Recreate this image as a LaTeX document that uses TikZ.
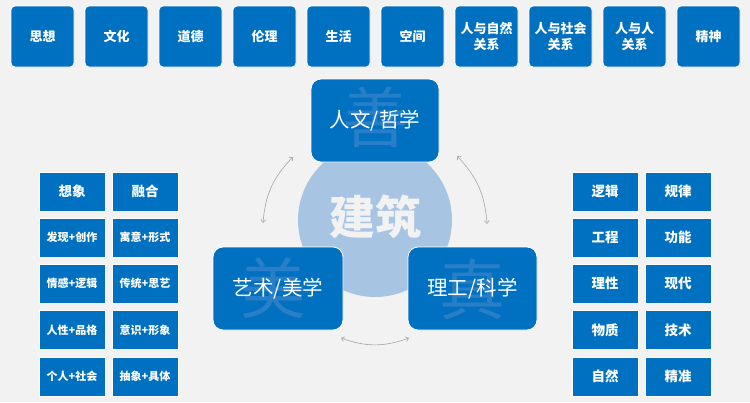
\documentclass[tikz,border=0pt]{standalone}
\usepackage{fontspec}
\setmainfont{Noto Sans CJK SC}
\usetikzlibrary{arrows.meta}
\definecolor{bg}{HTML}{F2F2F2}
\definecolor{boxblue}{HTML}{0070C0}
\definecolor{wmblue}{RGB}{40,126,200}
\definecolor{circ}{HTML}{A7C5E3}
\definecolor{arr}{HTML}{A6A6A6}
\begin{document}
\begin{tikzpicture}[x=1pt,y=-1pt,
  topbox/.style={draw=white,line width=0.8pt,fill=boxblue,rounded corners=4pt,minimum width=63pt,minimum height=61pt,text=white,font=\fontsize{13}{15.5}\selectfont\bfseries,align=center,inner sep=0pt},
  bigbox/.style={draw=white,line width=0.8pt,fill=boxblue,rounded corners=10pt,minimum height=83pt,text=white,font=\fontsize{20.5}{24}\selectfont,inner sep=0pt},
  gridbox/.style={draw=white,line width=0.8pt,fill=boxblue,minimum width=66pt,minimum height=39pt,text=white,font=\fontsize{11}{13}\selectfont\bfseries,inner sep=0pt},
  headbox/.style={gridbox,font=\fontsize{13.5}{16}\selectfont\bfseries},
  wm/.style={text=wmblue,font=\fontsize{66}{70}\selectfont,inner sep=0pt},
  dbl/.style={draw=arr,line width=0.6pt,{Straight Barb[length=3pt,width=5pt]}-{Straight Barb[length=3pt,width=5pt]}}
]
\path[fill=bg] (0,0) rectangle (750,402);
\useasboundingbox (0,0) rectangle (750,402);

% top row
\node[topbox] (t1) at (42.5,36.5) {思想};
\node[topbox] (t2) at (116.5,36.5) {文化};
\node[topbox] (t3) at (190.5,36.5) {道德};
\node[topbox] (t4) at (264.5,36.5) {伦理};
\node[topbox] (t5) at (338.5,36.5) {生活};
\node[topbox] (t6) at (412.5,36.5) {空间};
\node[topbox] (t7) at (486.5,36.5) {人与自然\\关系};
\node[topbox] (t8) at (560.5,36.5) {人与社会\\关系};
\node[topbox] (t9) at (634.5,36.5) {人与人\\关系};
\node[topbox] (t10) at (708.5,36.5) {精神};

% centre circle
\node[circle,fill=circ,minimum size=154pt,inner sep=0pt] (core) at (375,220) {};
\node[text=bg,font=\fontsize{46}{50}\selectfont\bfseries,inner sep=0pt] (coretxt) at (375,216.5) {建筑};

% three big boxes
\node[bigbox,minimum width=128pt,path picture={\node[wm] at ([yshift=3pt]path picture bounding box.center) {善};}] (ren) at (375,120.5) {人文/哲学};
\node[bigbox,minimum width=130pt,path picture={\node[wm] at ([xshift=-5pt]path picture bounding box.center) {美};}] (yi) at (278,288.5) {艺术/美学};
\node[bigbox,minimum width=129pt,path picture={\node[wm] at ([yshift=-1pt]path picture bounding box.center) {真};}] (li) at (472.5,288.5) {理工/科学};

% arrows
\coordinate (la1) at (293,157);
\coordinate (la2) at (263,223);
\coordinate (ra1) at (457,156);
\coordinate (ra2) at (487,224);
\coordinate (ba1) at (341,338);
\coordinate (ba2) at (409,338);
\draw[dbl] (la1) to[bend right=20] (la2);
\draw[dbl] (ra1) to[bend left=20] (ra2);
\draw[dbl] (ba1) to[bend right=20] (ba2);

% left grid
\node[headbox] (l11) at (72,191.5) {想象};
\node[headbox] (l12) at (145,191.5) {融合};
\node[gridbox] (l21) at (72,237.5) {发现+创作};
\node[gridbox] (l22) at (145,237.5) {寓意+形式};
\node[gridbox] (l31) at (72,283.5) {情感+逻辑};
\node[gridbox] (l32) at (145,283.5) {传统+思艺};
\node[gridbox] (l41) at (72,330) {人性+品格};
\node[gridbox] (l42) at (145,330) {意识+形象};
\node[gridbox] (l51) at (72,376.5) {个人+社会};
\node[gridbox] (l52) at (145,376.5) {抽象+具体};

% right grid
\node[headbox] (r11) at (605,191.5) {逻辑};
\node[headbox] (r12) at (678,191.5) {规律};
\node[headbox] (r21) at (605,237.5) {工程};
\node[headbox] (r22) at (678,237.5) {功能};
\node[headbox] (r31) at (605,283.5) {理性};
\node[headbox] (r32) at (678,283.5) {现代};
\node[headbox] (r41) at (605,330) {物质};
\node[headbox] (r42) at (678,330) {技术};
\node[headbox] (r51) at (605,376.5) {自然};
\node[headbox] (r52) at (678,376.5) {精准};
\end{tikzpicture}
\end{document}
